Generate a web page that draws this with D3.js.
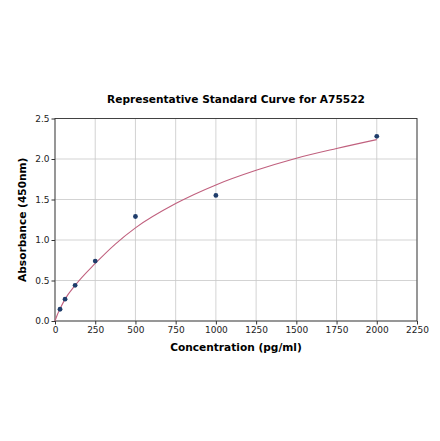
<!DOCTYPE html>
<html>
<head>
<meta charset="utf-8">
<script src="https://cdn.jsdelivr.net/npm/d3@7"></script>
<style>
  html, body { margin: 0; padding: 0; background: #fff; }
  svg { display: block; font-family: "DejaVu Sans", sans-serif; }
</style>
</head>
<body>
<div id="chart"></div>
<script>
// standards
const concentrations = [31.25, 62.5, 125, 250, 500, 1000, 2000];
const absorbances = [0.145, 0.27, 0.44, 0.74, 1.29, 1.55, 2.28];

const curveX = [0, 15, 31.25, 62.5, 125, 250, 375, 500, 750, 1000, 1250, 1500, 1750, 2000];
const curveY = [0, 0.08, 0.15, 0.27, 0.44, 0.71, 0.95, 1.15, 1.45, 1.68, 1.86, 2.01, 2.13, 2.24];

const xTicks = [0, 250, 500, 750, 1000, 1250, 1500, 1750, 2000, 2250];
const yTicks = [0, 0.5, 1.0, 1.5, 2.0, 2.5];

const W = 440, H = 441;
const margin = { left: 55, right: 23, top: 118.5, bottom: 120 };

const svg = d3.select("#chart").append("svg")
    .attr("width", W)
    .attr("height", H);

const x = d3.scaleLinear().domain([0, 2250]).range([margin.left, W - margin.right]);
const y = d3.scaleLinear().domain([0, 2.5]).range([H - margin.bottom, margin.top]);

// grid
svg.append("g")
    .selectAll("line")
    .data(xTicks)
    .join("line")
    .attr("x1", d => x(d)).attr("x2", d => x(d))
    .attr("y1", y(0)).attr("y2", y(2.5))
    .attr("stroke", "#c8c8c8").attr("stroke-width", 0.8);

svg.append("g")
    .selectAll("line")
    .data(yTicks)
    .join("line")
    .attr("x1", x(0)).attr("x2", x(2250))
    .attr("y1", d => y(d)).attr("y2", d => y(d))
    .attr("stroke", "#c8c8c8").attr("stroke-width", 0.8);

// axes
const xAxis = svg.append("g")
    .attr("transform", `translate(0,${y(0)})`)
    .call(d3.axisBottom(x).tickValues(xTicks).tickFormat(d3.format("d")).tickSize(3.5).tickPadding(2));

const yAxis = svg.append("g")
    .attr("transform", `translate(${x(0)},0)`)
    .call(d3.axisLeft(y).tickValues(yTicks).tickFormat(d3.format(".1f")).tickSize(3.5).tickPadding(2));

[xAxis, yAxis].forEach(g => {
    g.select(".domain").remove();
    g.selectAll("line").attr("stroke", "#333");
    g.selectAll("text")
        .attr("fill", "#222")
        .style("font-size", "9px")
        .style("font-family", "'DejaVu Sans', sans-serif");
});

// frame
svg.append("rect")
    .attr("x", x(0)).attr("y", y(2.5))
    .attr("width", x(2250) - x(0))
    .attr("height", y(0) - y(2.5))
    .attr("fill", "none")
    .attr("stroke", "#333")
    .attr("stroke-width", 0.9);

// fitted curve
const line = d3.line()
    .x(d => x(d[0]))
    .y(d => y(d[1]))
    .curve(d3.curveMonotoneX);

svg.append("path")
    .datum(d3.zip(curveX, curveY))
    .attr("d", line)
    .attr("fill", "none")
    .attr("stroke", "#c0607e")
    .attr("stroke-width", 1.1);

// standards
svg.append("g")
    .selectAll("circle")
    .data(d3.zip(concentrations, absorbances))
    .join("circle")
    .attr("cx", d => x(d[0]))
    .attr("cy", d => y(d[1]))
    .attr("r", 2.4)
    .attr("fill", "#1f3d6b");

// titles
svg.append("text")
    .attr("x", 236).attr("y", 103)
    .attr("text-anchor", "middle")
    .style("font-size", "10.6px")
    .style("font-weight", "bold")
    .text("Representative Standard Curve for A75522");

svg.append("text")
    .attr("x", 236).attr("y", 350.5)
    .attr("text-anchor", "middle")
    .style("font-size", "10.6px")
    .style("font-weight", "bold")
    .text("Concentration (pg/ml)");

svg.append("text")
    .attr("transform", `translate(26,${(y(0) + y(2.5)) / 2}) rotate(-90)`)
    .attr("text-anchor", "middle")
    .style("font-size", "10.6px")
    .style("font-weight", "bold")
    .text("Absorbance (450nm)");
</script>
</body>
</html>
